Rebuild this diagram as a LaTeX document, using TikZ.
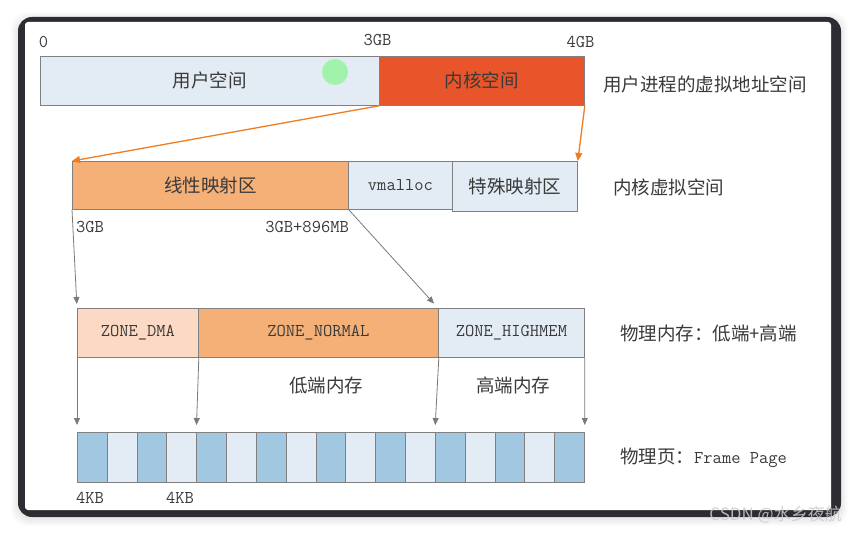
\documentclass[tikz,border=0pt]{standalone}
\usepackage{fontspec}
\newfontfamily\cjk{Noto Sans CJK SC}
\usetikzlibrary{arrows.meta}
\definecolor{boxblue}{HTML}{E3EBF4}
\definecolor{kred}{HTML}{E8552A}
\definecolor{lorange}{HTML}{F4B077}
\definecolor{peach}{HTML}{FBD9C4}
\definecolor{cdark}{HTML}{A2C7E0}
\definecolor{bgray}{HTML}{808080}
\definecolor{txt}{HTML}{3A3A3A}
\definecolor{arrorange}{HTML}{EF7D22}
\definecolor{arrgray}{HTML}{7A7A7A}
\definecolor{framedark}{HTML}{2C2C32}
\begin{document}
\begin{tikzpicture}[x=1pt,y=-1pt,
  box/.style={draw=bgray, line width=0.8pt, inner sep=0pt, anchor=north west, text=txt},
  zh/.style={font=\cjk\fontsize{18.5}{20}\selectfont, text=txt},
  mn/.style={font=\ttfamily\fontsize{18}{20}\selectfont, text=txt},
  cell/.style={draw=bgray, line width=0.8pt, inner sep=0pt, anchor=north west, minimum width=29.82pt, minimum height=50pt},
  lbl/.style={inner sep=0pt},
  garrow/.style={draw=arrgray, line width=0.8pt, -{Triangle[length=7pt,width=6pt]}},
  oarrow/.style={draw=arrorange, line width=1.3pt, -{Triangle[length=8pt,width=7pt]}}]
\useasboundingbox (0,0) rectangle (859,534);
\fill[white] (0,0) rectangle (859,534);
% shadow
\foreach \k in {1,...,7}
  \fill[black, opacity=0.012, rounded corners=16pt] (18-\k,19-\k) rectangle (841+\k,519+\k);
% frame
\fill[framedark, rounded corners=14pt] (18,17) rectangle (841,517);
\fill[white, rounded corners=3pt] (25,22) rectangle (831,510);

% row 1
\node[box, fill=boxblue, minimum width=339pt, minimum height=49pt, zh] (us) at (40,56) {用户空间};
\node[box, fill=kred, minimum width=205pt, minimum height=49pt, zh] (ks) at (379,56) {内核空间};
\fill[green!75!white, opacity=0.4] (335,72) circle (13);
\node[mn, lbl] (l0) at (43.5,42) {0};
\node[mn, lbl] (l3) at (377.5,40) {3GB};
\node[mn, lbl] (l4) at (580.5,42) {4GB};
\node[zh, lbl, anchor=west] (t1) at (603,84) {用户进程的虚拟地址空间};

% row 2
\node[box, fill=lorange, minimum width=276pt, minimum height=48pt, zh] (lin) at (72,161) {线性映射区};
\node[box, fill=boxblue, minimum width=104pt, minimum height=48pt, mn] (vm) at (348,161) {vmalloc};
\node[box, fill=boxblue, minimum width=125pt, minimum height=50pt, zh] (sp) at (452,161) {特殊映射区};
\node[zh, lbl, anchor=west] (t2) at (613,187) {内核虚拟空间};
\node[mn, lbl, anchor=west] (l5) at (76,227.5) {3GB};
\node[mn, lbl, anchor=east] (l6) at (349,227.5) {3GB+896MB};

% row 3
\node[box, fill=peach, minimum width=121pt, minimum height=49pt, mn] (dma) at (77,308) {ZONE\_DMA};
\node[box, fill=lorange, minimum width=240pt, minimum height=49pt, mn] (nor) at (198,308) {ZONE\_NORMAL};
\node[box, fill=boxblue, minimum width=146pt, minimum height=49pt, mn] (hi) at (438,308) {ZONE\_HIGHMEM};
\node[zh, lbl, anchor=west] (t3) at (620,333) {物理内存：低端+高端};
\node[zh, lbl] (lo) at (326,386) {低端内存};
\node[zh, lbl] (hm) at (513,385) {高端内存};

% cells
\foreach \i [evaluate=\i as \xx using 77+\i*29.8235] in {0,...,16} {
  \ifodd\i \def\cc{boxblue}\else\def\cc{cdark}\fi
  \node[cell, fill=\cc] (c\i) at (\xx,432) {};
}
\node[lbl, anchor=west] (t4) at (620,457.5) {{\cjk\fontsize{18.5}{20}\selectfont\color{txt}物理页：}{\ttfamily\fontsize{18}{20}\selectfont\color{txt}Frame Page}};
\node[mn, lbl, anchor=west] (k1) at (76,497.5) {4KB};
\node[mn, lbl, anchor=west] (k2) at (166,497.5) {4KB};

% arrows
\draw[oarrow] (ks.south west) -- (lin.north west);
\draw[oarrow] (ks.south east) -- (sp.north east);
\draw[garrow, shorten >=4pt] (lin.south west) -- (dma.north west);
\draw[garrow, shorten >=6pt] (lin.south east) -- (hi.north west);
\draw[garrow, shorten >=7pt] (dma.south west) -- (c0.north west);
\draw[garrow, shorten >=7pt] (dma.south east) -- (c4.north west);
\draw[garrow, shorten >=7pt] (nor.south east) -- (c12.north west);
\draw[garrow, shorten >=7pt] (hi.south east) -- (c16.north east);

% watermark
\node[font=\cjk\fontsize{17}{19}\selectfont, text=gray!40, opacity=0.85, anchor=east, inner sep=0pt] (wm) at (842,515) {CSDN @水乡夜航};
\end{tikzpicture}
\end{document}
